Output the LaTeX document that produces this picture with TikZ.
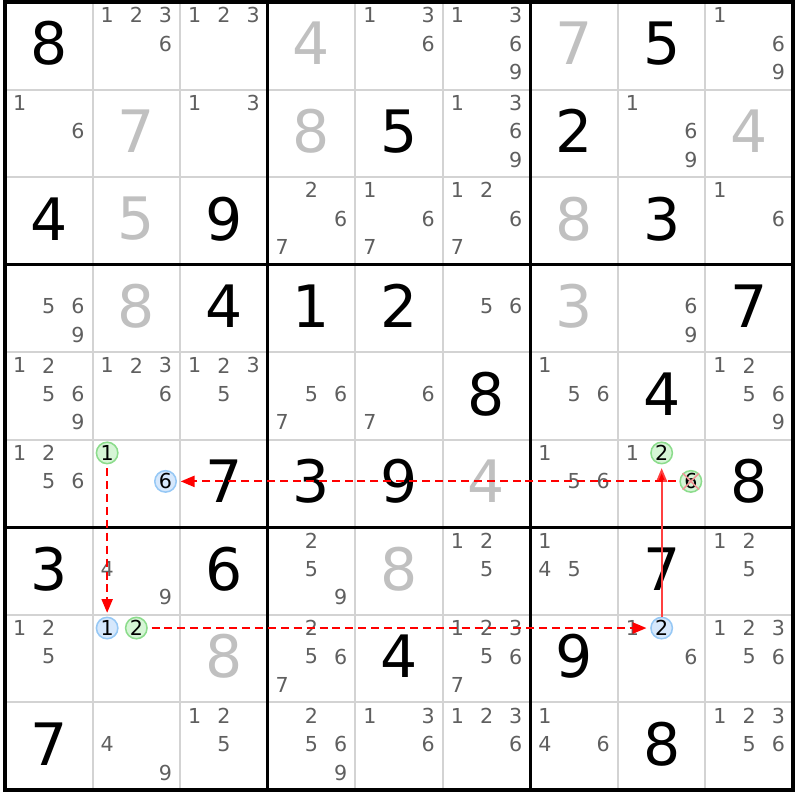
\documentclass[tikz,border=0pt]{standalone}
\usepackage{fontspec}
\setmainfont{DejaVu Sans}
\usetikzlibrary{arrows.meta}

\definecolor{candgray}{RGB}{95,95,95}
\definecolor{solvedgray}{RGB}{192,192,192}
\definecolor{gridgray}{RGB}{211,211,211}
\definecolor{onfill}{RGB}{214,245,214}
\definecolor{ondraw}{RGB}{140,220,140}
\definecolor{offfill}{RGB}{214,232,252}
\definecolor{offdraw}{RGB}{150,200,245}
\definecolor{crossred}{RGB}{240,150,150}
\definecolor{linkred}{RGB}{255,0,0}

\begin{document}
\begin{tikzpicture}[x=1cm, y=1cm,
    given/.style={inner sep=0pt, font=\fontsize{19}{19}\selectfont},
    solved/.style={given, text=solvedgray},
    cand/.style={inner sep=0pt, text=candgray, font=\fontsize{6.7}{6.7}\selectfont},
    oncand/.style={circle, inner sep=0pt, minimum size=0.245cm, line width=0.5pt,
        draw=ondraw, fill=onfill, text=black, font=\fontsize{6.7}{6.7}\selectfont},
    offcand/.style={oncand, draw=offdraw, fill=offfill},
    linktip/.style={-{Triangle[length=4.5pt, width=3.6pt, fill=linkred]}},
    weaklink/.style={linktip, draw=linkred, line width=0.65pt, dash pattern=on 2.6pt off 1.6pt,
        shorten >=1.2pt, shorten <=1.2pt},
    stronglink/.style={linktip, draw=linkred!75, line width=0.6pt, shorten >=1.2pt}
]
    \useasboundingbox (-0.057,0.023) rectangle (9.057,-9.114);

    % Grid
    \foreach \i in {1,2,4,5,7,8} {
        \draw[gridgray, line width=0.65pt] (\i,0) -- (\i,-9);
        \draw[gridgray, line width=0.65pt] (0,-\i) -- (9,-\i);
    }
    \foreach \i in {3,6} {
        \draw[line width=1.1pt] (\i,0) -- (\i,-9);
        \draw[line width=1.1pt] (0,-\i) -- (9,-\i);
    }
    \draw[line width=1.1pt] (0,0) rectangle (9,-9);

    % Givens
    \foreach \r/\c/\d in {1/1/8, 1/8/5, 2/5/5, 2/7/2, 3/1/4, 3/3/9, 3/8/3,
        4/3/4, 4/4/1, 4/5/2, 4/9/7, 5/6/8, 5/8/4, 6/3/7, 6/4/3, 6/5/9, 6/9/8,
        7/1/3, 7/3/6, 7/8/7, 8/5/4, 8/7/9, 9/1/7, 9/8/8}
        \node[given] (v\r\c) at (\c-0.5,-\r+0.525) {\d};

    % Solved cells
    \foreach \r/\c/\d in {1/4/4, 1/7/7, 2/2/7, 2/4/8, 2/9/4, 3/2/5, 3/7/8,
        4/2/8, 4/7/3, 6/6/4, 7/5/8, 8/3/8}
        \node[solved] (v\r\c) at (\c-0.5,-\r+0.525) {\d};

    % Candidates
    \foreach \r/\c/\ds in {1/2/{1,2,3,6}, 1/3/{1,2,3}, 1/5/{1,3,6}, 1/6/{1,3,6,9}, 1/9/{1,6,9},
        2/1/{1,6}, 2/3/{1,3}, 2/6/{1,3,6,9}, 2/8/{1,6,9},
        3/4/{2,6,7}, 3/5/{1,6,7}, 3/6/{1,2,6,7}, 3/9/{1,6},
        4/1/{5,6,9}, 4/6/{5,6}, 4/8/{6,9},
        5/1/{1,2,5,6,9}, 5/2/{1,2,3,6}, 5/3/{1,2,3,5}, 5/4/{5,6,7}, 5/5/{6,7},
        5/7/{1,5,6}, 5/9/{1,2,5,6,9},
        6/1/{1,2,5,6}, 6/7/{1,5,6}, 6/8/{1},
        7/2/{4,9}, 7/4/{2,5,9}, 7/6/{1,2,5}, 7/7/{1,4,5}, 7/9/{1,2,5},
        8/1/{1,2,5}, 8/4/{2,5,6,7}, 8/6/{1,2,3,5,6,7}, 8/8/{1,6}, 8/9/{1,2,3,5,6},
        9/2/{4,9}, 9/3/{1,2,5}, 9/4/{2,5,6,9}, 9/5/{1,3,6}, 9/6/{1,2,3,6},
        9/7/{1,4,6}, 9/9/{1,2,3,5,6}}
        \foreach \d in \ds {
            \pgfmathsetmacro\cx{\c-1+(mod(\d-1,3)+0.5)/3}
            \pgfmathsetmacro\cy{-\r+1-0.15-0.325*int((\d-1)/3)}
            \node[cand] (k\r\c\d) at (\cx,\cy) {\d};
        }

    % Chain candidates
    \node[oncand]  (r6c2d1) at (1.1667,-5.15)  {1};
    \node[offcand] (r6c2d6) at (1.8333,-5.475) {6};
    \node[oncand]  (r6c8d2) at (7.5,-5.15)     {2};
    \node[oncand]  (r6c8d6) at (7.8333,-5.475) {6};
    \node[offcand] (r8c2d1) at (1.1667,-7.15)  {1};
    \node[oncand]  (r8c2d2) at (1.5,-7.15)     {2};
    \node[offcand] (r8c8d2) at (7.5,-7.15)     {2};

    % Links
    \draw[weaklink] (r6c2d1) -- (r8c2d1);
    \draw[weaklink] (r8c2d2) -- (r8c8d2);
    \draw[stronglink] (r8c8d2) -- (r6c8d2);
    \draw[weaklink] (r6c8d6) -- (r6c2d6);

    % Eliminated candidate
    \draw[draw=crossred, line width=0.5pt] (r6c8d6.north west) -- (r6c8d6.south east);
    \draw[draw=crossred, line width=0.5pt] (r6c8d6.north east) -- (r6c8d6.south west);
\end{tikzpicture}
\end{document}
